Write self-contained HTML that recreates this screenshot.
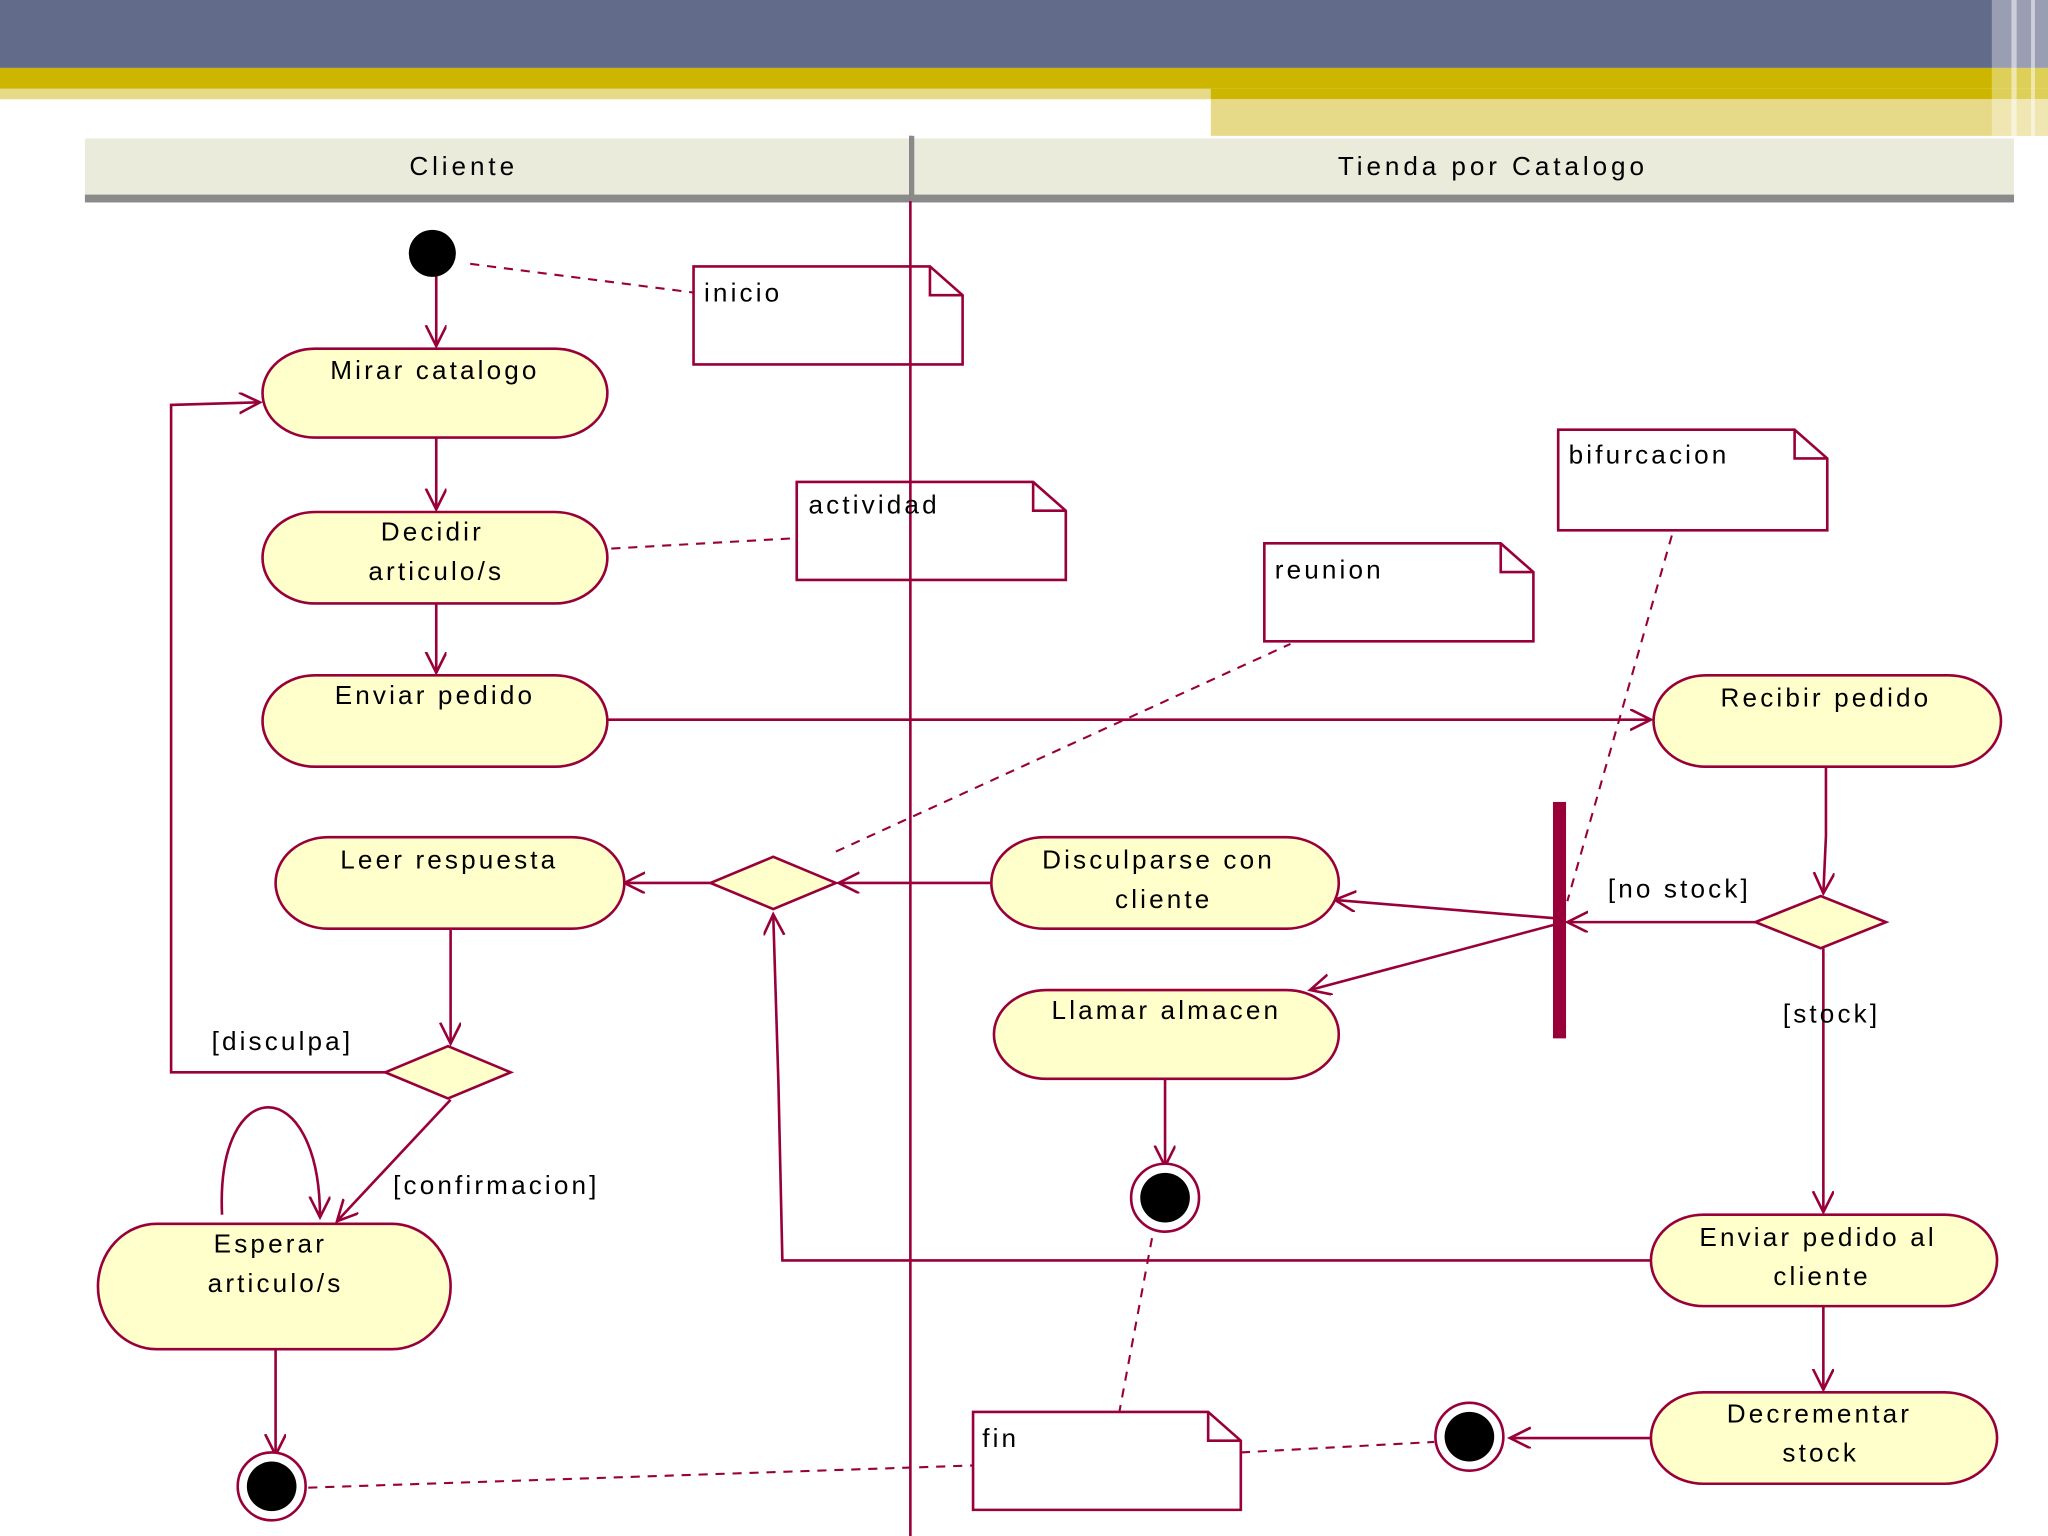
<!DOCTYPE html>
<html><head><meta charset="utf-8"><style>
html,body{margin:0;padding:0;background:#fff;}
svg{display:block}
text{font-family:"Liberation Sans",sans-serif;font-size:20px;fill:#000;letter-spacing:2.4px}
</style></head><body>
<svg width="2048" height="1536" viewBox="0 0 1568 1176" preserveAspectRatio="none" xmlns="http://www.w3.org/2000/svg">
<defs>
<marker id="a" markerWidth="20" markerHeight="20" refX="16" refY="8" orient="auto" markerUnits="userSpaceOnUse">
<path d="M0,0 L16,8 L0,16" fill="none" stroke="#99003a" stroke-width="2"/>
</marker>
</defs>
<rect x="0" y="0" width="1568" height="52" fill="#636b8a"/>
<rect x="0" y="52" width="1568" height="16" fill="#cdb600"/>
<rect x="0" y="68" width="927" height="8" fill="#e6d987"/>
<rect x="927" y="68" width="641" height="8" fill="#cdb600"/>
<rect x="927" y="76" width="641" height="28" fill="#e6d987"/>
<rect x="1525" y="0" width="43" height="104" fill="#fff" opacity="0.35"/>
<rect x="1540" y="0" width="4" height="104" fill="#fff" opacity="0.5"/>
<rect x="1555" y="0" width="3" height="104" fill="#fff" opacity="0.5"/>
<rect x="65" y="106" width="1477" height="44" fill="#ebebdc"/>
<rect x="65" y="149" width="1477" height="6" fill="#8a8a8a"/>
<line x1="697" y1="104" x2="697" y2="1176" stroke="#99003a" stroke-width="2"/>
<rect x="696" y="104" width="4" height="50" fill="#8a8a8a"/>
<text x="355" y="134" text-anchor="middle" style="letter-spacing:3px">Cliente</text>
<text x="1143" y="134" text-anchor="middle" style="letter-spacing:3px">Tienda por Catalogo</text>

<g fill="none" stroke="#99003a" stroke-width="2">
<g stroke-dasharray="7,6" stroke-width="1.6">
<line x1="360" y1="202" x2="531" y2="224"/>
<line x1="468" y1="420" x2="610" y2="412"/>
<line x1="640" y1="652" x2="988" y2="493"/>
<line x1="1280" y1="410" x2="1200" y2="690"/>
<line x1="882" y1="948" x2="857" y2="1081"/>
<line x1="236" y1="1139" x2="745" y2="1122"/>
<line x1="950" y1="1112" x2="1098" y2="1104"/>
</g>
<line x1="334" y1="210" x2="334" y2="265" marker-end="url(#a)"/>
<line x1="334" y1="335" x2="334" y2="390" marker-end="url(#a)"/>
<line x1="334" y1="462" x2="334" y2="515" marker-end="url(#a)"/>
<line x1="465" y1="551" x2="1264" y2="551" marker-end="url(#a)"/>
<polyline points="1398,587 1398,640 1396,684" marker-end="url(#a)"/>
<line x1="1344" y1="706" x2="1200" y2="706" marker-end="url(#a)"/>
<line x1="1396" y1="726" x2="1396" y2="928" marker-end="url(#a)"/>
<line x1="1190" y1="703" x2="1022" y2="689" marker-end="url(#a)"/>
<line x1="1190" y1="708" x2="1003" y2="758" marker-end="url(#a)"/>
<line x1="759" y1="676" x2="642" y2="676" marker-end="url(#a)"/>
<line x1="544" y1="676" x2="478" y2="676" marker-end="url(#a)"/>
<polyline points="1264,965 599,965 596,830 592,700" marker-end="url(#a)"/>
<line x1="345" y1="711" x2="345" y2="799" marker-end="url(#a)"/>
<polyline points="295,821 131,821 131,310 199,308" marker-end="url(#a)"/>
<line x1="345" y1="842" x2="258" y2="935" marker-end="url(#a)"/>
<path d="M170,930 C165,820 245,820 245,932" marker-end="url(#a)"/>
<line x1="211" y1="1033" x2="211" y2="1114" marker-end="url(#a)"/>
<line x1="892" y1="826" x2="892" y2="893" marker-end="url(#a)"/>
<line x1="1396" y1="1000" x2="1396" y2="1064" marker-end="url(#a)"/>
<line x1="1264" y1="1101" x2="1156" y2="1101" marker-end="url(#a)"/>
</g>

<g fill="#ffffcc" stroke="#99003a" stroke-width="2">
<rect x="201" y="267" width="264" height="68" rx="40" ry="34"/>
<rect x="201" y="392" width="264" height="70" rx="40" ry="35"/>
<rect x="201" y="517" width="264" height="70" rx="40" ry="35"/>
<rect x="211" y="641" width="267" height="70" rx="40" ry="35"/>
<rect x="75" y="937" width="270" height="96" rx="45" ry="48"/>
<rect x="1266" y="517" width="266" height="70" rx="40" ry="35"/>
<rect x="759" y="641" width="266" height="70" rx="40" ry="35"/>
<rect x="761" y="758" width="264" height="68" rx="40" ry="34"/>
<rect x="1264" y="930" width="265" height="70" rx="40" ry="35"/>
<rect x="1264" y="1066" width="265" height="70" rx="40" ry="35"/>
<polygon points="544,676 592,656 640,676 592,696"/>
<polygon points="1344,706 1394,686 1444,706 1394,726"/>
<polygon points="295,821 343,801 391,821 343,841"/>
</g>
<rect x="1189" y="614" width="10" height="181" fill="#99003a"/>
<circle cx="331" cy="194" r="18" fill="#000"/>
<g fill="#fff" stroke="#99003a" stroke-width="2">
<circle cx="208" cy="1138" r="26"/><circle cx="892" cy="917" r="26"/><circle cx="1125" cy="1100" r="26"/>
</g>
<circle cx="208" cy="1138" r="19" fill="#000"/>
<circle cx="892" cy="917" r="19" fill="#000"/>
<circle cx="1125" cy="1100" r="19" fill="#000"/>
<g fill="#fff" stroke="#99003a" stroke-width="2">
<path d="M531,204 H712 L737,226 V279 H531 Z M712,204 V226 H737"/>
<path d="M610,369 H791 L816,391 V444 H610 Z M791,369 V391 H816"/>
<path d="M968,416 H1149 L1174,438 V491 H968 Z M1149,416 V438 H1174"/>
<path d="M1193,329 H1374 L1399,351 V406 H1193 Z M1374,329 V351 H1399"/>
<path d="M745,1081 H925 L950,1103 V1156 H745 Z M925,1081 V1103 H950"/>
</g>
<line x1="697" y1="369" x2="697" y2="444" stroke="#99003a" stroke-width="2"/>
<line x1="697" y1="204" x2="697" y2="279" stroke="#99003a" stroke-width="2"/>
<text x="539" y="231">inicio</text>
<text x="619" y="393">actividad</text>
<text x="976" y="443">reunion</text>
<text x="1201" y="355">bifurcacion</text>
<text x="752" y="1108">fin</text>
<g text-anchor="middle">
<text x="333" y="290">Mirar catalogo</text>
<text x="331" y="414">Decidir</text><text x="334" y="444">articulo/s</text>
<text x="333" y="539">Enviar pedido</text>
<text x="344" y="665">Leer respuesta</text>
<text x="207" y="959">Esperar</text><text x="211" y="989">articulo/s</text>
<text x="1398" y="541">Recibir pedido</text>
<text x="887" y="665">Disculparse con</text><text x="891" y="695">cliente</text>
<text x="893" y="780">Llamar almacen</text>
<text x="1392" y="954">Enviar pedido al</text><text x="1395" y="984">cliente</text>
<text x="1393" y="1089">Decrementar</text><text x="1394" y="1119">stock</text>
</g>
<text x="1231" y="687">[no stock]</text>
<text x="1365" y="783">[stock]</text>
<text x="162" y="804">[disculpa]</text>
<text x="301" y="914">[confirmacion]</text>
</svg>
</body></html>
